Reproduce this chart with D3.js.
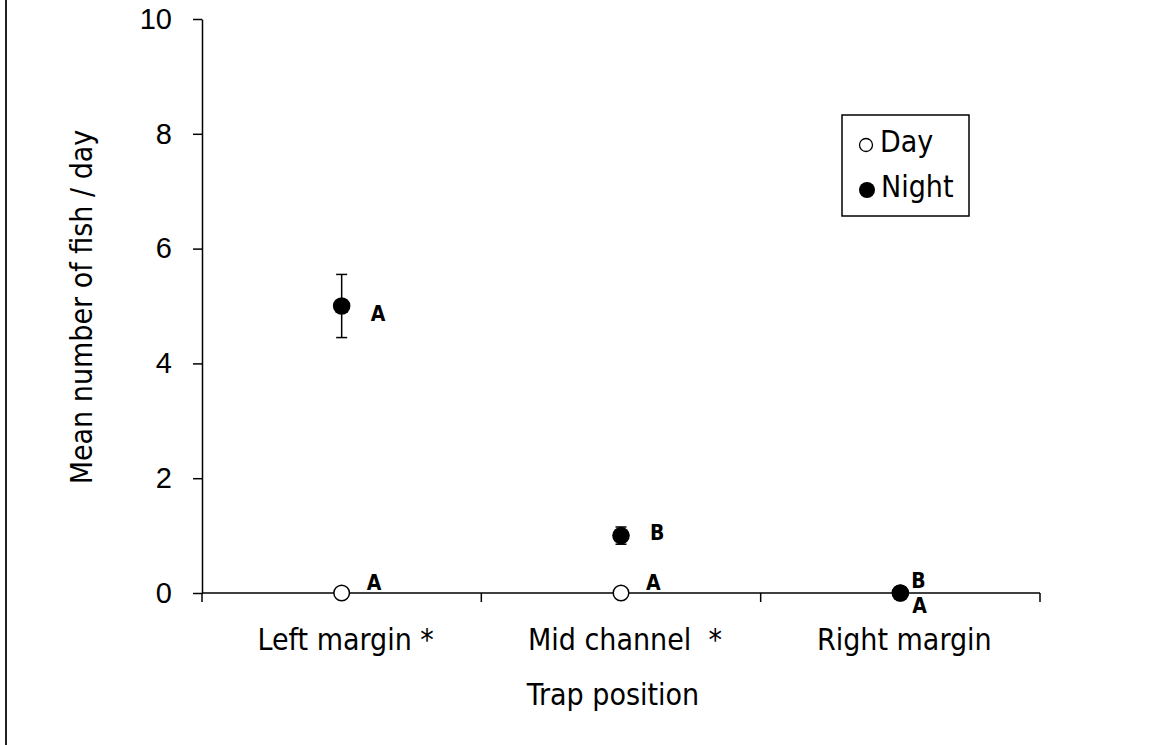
<!DOCTYPE html>
<html>
<head>
<meta charset="utf-8">
<script src="https://cdn.jsdelivr.net/npm/d3@7"></script>
<style>
  body { margin: 0; background: #fff; }
  svg { display: block; font-family: "DejaVu Sans Condensed", "DejaVu Sans", sans-serif; }
</style>
</head>
<body>
<svg id="chart" width="1151" height="745"></svg>
<script>
// Trap positions and catch data
const positions = ["Left margin *", "Mid channel  *", "Right margin"];
const dayMeans = [0, 0, 0];
const nightMeans = [5.0, 1.0, 0];
const nightSE = [0.55, 0.15, 0];
const dayLetters = ["A", "A", "A"];
const nightLetters = ["A", "B", "B"];
const yTicks = [0, 2, 4, 6, 8, 10];

const svg = d3.select("#chart");
const plotLeft = 202, plotRight = 1040, plotTop = 19, plotBottom = 593;
const fontSize = 30;

const x = d3.scaleBand().domain(positions).range([plotLeft, plotRight]);
const y = d3.scaleLinear().domain([0, 10]).range([plotBottom, plotTop]);

// frame line at left edge
svg.append("line").attr("x1", 6).attr("x2", 6).attr("y1", 0).attr("y2", 745)
  .attr("stroke", "#222").attr("stroke-width", 2);

// y axis
const yAxis = svg.append("g").attr("transform", `translate(${plotLeft},0)`)
  .call(d3.axisLeft(y).tickValues(yTicks).tickSize(9).tickPadding(21).tickSizeOuter(0));
yAxis.select(".domain").attr("stroke", "#000").attr("stroke-width", 1.5);
yAxis.selectAll(".tick line").attr("stroke", "#000").attr("stroke-width", 1.5);
yAxis.selectAll("text").attr("font-size", 29).attr("fill", "#000")
  .attr("font-family", null);

// x axis: baseline with ticks at category boundaries
const g = svg.append("g");
g.append("line").attr("x1", plotLeft).attr("x2", plotRight).attr("y1", y(0)).attr("y2", y(0))
  .attr("stroke", "#000").attr("stroke-width", 1.5);
const bounds = positions.map(p => x(p)).concat([x(positions[positions.length - 1]) + x.bandwidth()]);
g.selectAll(".xt").data(bounds).join("line")
  .attr("x1", d => d).attr("x2", d => d).attr("y1", y(0)).attr("y2", y(0) + 9)
  .attr("stroke", "#000").attr("stroke-width", 1.5);
g.selectAll(".xl").data(positions).join("text")
  .attr("x", d => x(d) + x.bandwidth() / 2 + 4).attr("y", 650)
  .attr("text-anchor", "middle").attr("font-size", fontSize).attr("fill", "#000")
  .style("white-space", "pre")
  .text(d => d);

// axis titles
svg.append("text").attr("x", 613).attr("y", 705).attr("text-anchor", "middle")
  .attr("font-size", fontSize).text("Trap position");
svg.append("text").attr("transform", "translate(92,307) rotate(-90)")
  .attr("text-anchor", "middle").attr("font-size", fontSize).text("Mean number of fish / day");

const cx = p => x(p) + x.bandwidth() / 2;

// night error bars
positions.forEach((p, i) => {
  if (nightSE[i] <= 0) return;
  const hi = y(nightMeans[i] + nightSE[i]), lo = y(nightMeans[i] - nightSE[i]);
  svg.append("line").attr("x1", cx(p)).attr("x2", cx(p)).attr("y1", hi).attr("y2", lo)
    .attr("stroke", "#000").attr("stroke-width", 1.5);
  [hi, lo].forEach(v => svg.append("line").attr("x1", cx(p) - 5.5).attr("x2", cx(p) + 5.5)
    .attr("y1", v).attr("y2", v).attr("stroke", "#000").attr("stroke-width", 1.5));
});

// day markers (open)
svg.selectAll(".day").data(positions).join("circle")
  .attr("cx", cx).attr("cy", (d, i) => y(dayMeans[i])).attr("r", 7.8)
  .attr("fill", "#fff").attr("stroke", "#000").attr("stroke-width", 1.5);
// night markers (filled)
svg.selectAll(".night").data(positions).join("circle")
  .attr("cx", cx).attr("cy", (d, i) => y(nightMeans[i])).attr("r", 8.8)
  .attr("fill", "#000");

// significance letters
const letter = (px, py, t) => svg.append("text").attr("x", px).attr("y", py)
  .attr("font-size", 21).attr("font-weight", "bold").attr("fill", "#000").text(t);
positions.forEach((p, i) => {
  if (i < 2) {
    letter(cx(p) + 29, y(nightMeans[i]) + (i === 0 ? 15 : 4), nightLetters[i]);
    letter(cx(p) + 25, y(dayMeans[i]) - 3, dayLetters[i]);
  } else {
    letter(cx(p) + 11, y(nightMeans[i]) - 5, nightLetters[i]);
    letter(cx(p) + 12, y(dayMeans[i]) + 20, dayLetters[i]);
  }
});

// legend
const lg = svg.append("g");
lg.append("rect").attr("x", 842).attr("y", 115).attr("width", 127).attr("height", 101)
  .attr("fill", "#fff").attr("stroke", "#000").attr("stroke-width", 1.5);
lg.append("circle").attr("cx", 866).attr("cy", 145).attr("r", 6.5)
  .attr("fill", "#fff").attr("stroke", "#000").attr("stroke-width", 1.3);
lg.append("text").attr("x", 880).attr("y", 152).attr("font-size", fontSize).text("Day");
lg.append("circle").attr("cx", 867).attr("cy", 190).attr("r", 8).attr("fill", "#000");
lg.append("text").attr("x", 881).attr("y", 197).attr("font-size", fontSize).text("Night");
</script>
</body>
</html>
